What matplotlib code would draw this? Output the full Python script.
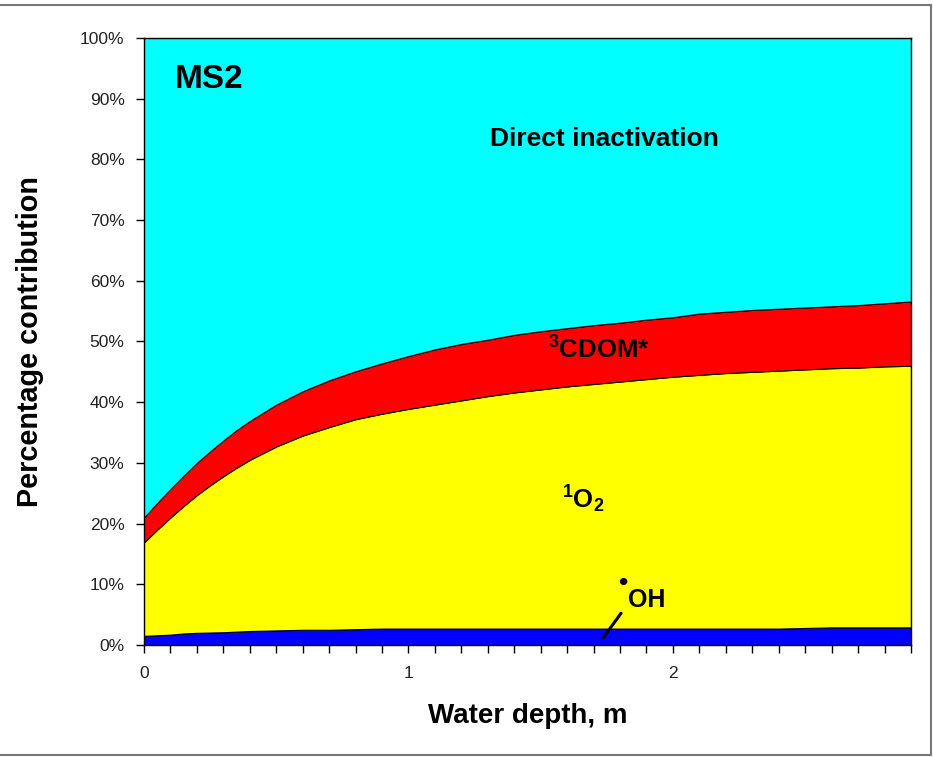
import numpy as np
import matplotlib.pyplot as plt
from matplotlib.patches import Rectangle
from matplotlib.ticker import MultipleLocator, PercentFormatter

plt.rcParams['font.family'] = ['Liberation Sans', 'DejaVu Sans']
plt.rcParams['mathtext.fontset'] = 'custom'
plt.rcParams['mathtext.rm'] = 'Liberation Sans:bold'
plt.rcParams['mathtext.it'] = 'Liberation Sans:bold'
plt.rcParams['mathtext.bf'] = 'Liberation Sans:bold'

# water depth, m (denser near the surface where the curves bend most)
depth = [0, 0.05, 0.1, 0.15, 0.2, 0.25, 0.3, 0.35, 0.4, 0.5,
         0.6, 0.7, 0.8, 0.9, 1.0, 1.1, 1.2, 1.3, 1.4, 1.5,
         1.6, 1.7, 1.8, 1.9, 2.0, 2.1, 2.2, 2.3, 2.4, 2.5,
         2.6, 2.7, 2.8, 2.9]

# OH contribution, %
oh_pct = [1.5, 1.6, 1.7, 1.9, 2.0, 2.05, 2.1, 2.2, 2.3, 2.4,
          2.5, 2.5, 2.6, 2.7, 2.7, 2.7, 2.7, 2.7, 2.7, 2.7,
          2.7, 2.7, 2.7, 2.7, 2.7, 2.7, 2.7, 2.7, 2.7, 2.8,
          2.9, 2.9, 2.9, 2.9]
# top of the 1O2 band (OH + 1O2), %
o2_top = [16.9, 19.0, 21.0, 22.9, 24.7, 26.3, 27.8, 29.2, 30.5, 32.7,
          34.5, 35.9, 37.2, 38.1, 38.9, 39.6, 40.3, 41.0, 41.6, 42.1,
          42.6, 43.0, 43.4, 43.8, 44.2, 44.5, 44.8, 45.0, 45.2, 45.4,
          45.6, 45.7, 45.9, 46.0]
# top of the 3CDOM* band (OH + 1O2 + 3CDOM*), %
cdom_top = [21.0, 23.4, 25.7, 27.9, 30.0, 31.9, 33.7, 35.4, 36.9, 39.6,
            41.8, 43.6, 45.1, 46.4, 47.6, 48.7, 49.6, 50.3, 51.1, 51.7,
            52.2, 52.7, 53.1, 53.6, 54.0, 54.6, 54.9, 55.2, 55.4, 55.6,
            55.8, 56.0, 56.3, 56.6]

oh = np.array(oh_pct)
singlet_o2 = np.array(o2_top) - oh
cdom = np.array(cdom_top) - np.array(o2_top)
direct = 100 - np.array(cdom_top)

colors = ['#0000FF', '#FFFF00', '#FF0000', '#00FFFF']

fig = plt.figure(figsize=(9.33, 7.57), dpi=100)
ax = fig.add_axes([0.1543, 0.148, 0.8221, 0.8018])

ax.stackplot(depth, oh, singlet_o2, cdom, direct, colors=colors,
             edgecolor='black', linewidth=0.8)

ax.set_xlim(0, 2.9)
ax.set_ylim(0, 100)
ax.xaxis.set_major_locator(MultipleLocator(1))
ax.xaxis.set_minor_locator(MultipleLocator(0.1))
ax.yaxis.set_major_locator(MultipleLocator(10))
ax.yaxis.set_major_formatter(PercentFormatter(decimals=0))
ax.tick_params(axis='both', which='both', direction='out', length=6,
               width=1, labelsize=12.5, colors='black', labelcolor='#222222')
ax.tick_params(axis='y', pad=8)
ax.tick_params(axis='x', pad=9)
for s in ax.spines.values():
    s.set_linewidth(1)

ax.set_xlabel('Water depth, m', fontsize=20, fontweight='bold', labelpad=16)
ax.set_ylabel('Percentage contribution', fontsize=20.7, fontweight='bold',
              labelpad=26)

ax.text(0.118, 93.2, 'MS2', fontsize=24, fontweight='bold', ha='left', va='center')
ax.text(1.742, 83.4, 'Direct inactivation', fontsize=19, fontweight='bold',
        ha='center', va='center')
ax.text(1.72, 48.6, r'$^3$CDOM*', fontsize=18.5, fontweight='bold',
        ha='center', va='center')
ax.text(1.66, 24.0, r'$^1$O$_2$', fontsize=18.5, fontweight='bold',
        ha='center', va='center')
ax.text(1.90, 7.4, 'OH', fontsize=18, fontweight='bold', ha='center', va='center')
ax.text(1.81, 10.2, '\u2022', fontsize=19, fontweight='bold', ha='center', va='center')
ax.annotate('', xy=(1.73, 0.8), xytext=(1.81, 5.6),
            arrowprops=dict(arrowstyle='-', lw=2.2, color='black'))

fig.patches.append(Rectangle((-0.01, 0.002), 1.008, 0.991, transform=fig.transFigure,
                             fill=False, edgecolor='#777777', linewidth=1.5))

fig.savefig('out.png', dpi=100)
